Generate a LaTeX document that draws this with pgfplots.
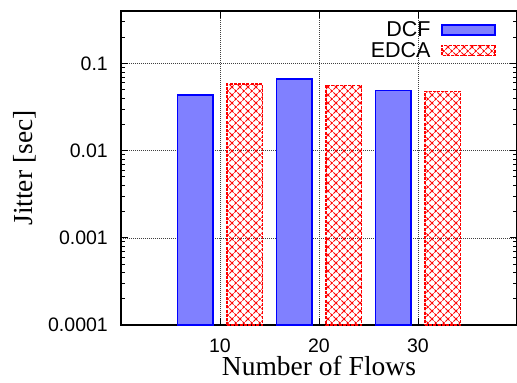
\documentclass[border=0pt]{standalone}
\usepackage{pgfplots}
\pgfplotsset{compat=1.18}
\usepackage{fontspec}
\setmainfont{Liberation Serif}
\newfontfamily\hel{Liberation Sans}
\usetikzlibrary{patterns}
\pgfdeclarepatternformonly{diagcross}{\pgfqpoint{-1pt}{-1pt}}{\pgfqpoint{9pt}{9pt}}{\pgfqpoint{8pt}{8pt}}{
 \pgfsetlinewidth{0.8pt}
 \pgfpathmoveto{\pgfqpoint{-0.5pt}{-0.5pt}}\pgfpathlineto{\pgfqpoint{8.5pt}{8.5pt}}
 \pgfpathmoveto{\pgfqpoint{-0.5pt}{8.5pt}}\pgfpathlineto{\pgfqpoint{8.5pt}{-0.5pt}}
 \pgfusepath{stroke}}
\definecolor{dcffill}{RGB}{128,128,255}
\pgfplotsset{boxlegend/.style={legend image code/.code={\draw[##1] (0pt,-5pt) rectangle (53pt,5pt);}}}
\begin{document}
\begin{tikzpicture}
\begin{axis}[
  scale only axis, width=396pt, height=314pt,
  xmin=0, xmax=40,
  ymode=log, ymin=1e-4, ymax=0.4, log origin=infty,
  xtick={10,20,30}, xticklabels={10,20,30},
  ytick={1e-4,1e-3,1e-2,1e-1}, yticklabels={0.0001,0.001,0.01,0.1},
  minor ytick={2e-4,3e-4,4e-4,5e-4,6e-4,7e-4,8e-4,9e-4,2e-3,3e-3,4e-3,5e-3,6e-3,7e-3,8e-3,9e-3,2e-2,3e-2,4e-2,5e-2,6e-2,7e-2,8e-2,9e-2,2e-1,3e-1},
  tick align=inside,
  major tick length=7pt, minor tick length=4pt,
  tick style={black, line width=0.8pt},
  axis line style={line width=1.2pt},
  grid=major,
  major grid style={black!75, line width=0.6pt, dash pattern=on 1pt off 1pt},
  xticklabel style={font=\hel\fontsize{19.5}{20}\selectfont, anchor=base, inner sep=0pt, yshift=-27pt},
  yticklabel style={font=\hel\fontsize{19.5}{20}\selectfont, anchor=east, inner sep=0pt, xshift=-13pt},
  xlabel={Number of Flows},
  ylabel={Jitter [sec]},
  every axis x label/.style={font=\fontsize{27.5}{28}\selectfont, at={(axis description cs:0.5,0)}, anchor=base, yshift=-50pt, inner sep=0pt},
  every axis y label/.style={font=\fontsize{27.5}{28}\selectfont, at={(axis description cs:-0.2247,0.5)}, anchor=base, rotate=90, inner sep=0pt},
  legend style={draw=none, fill=none, at={(axis description cs:1,1)}, anchor=north east, xshift=-21pt, yshift=-9pt, inner sep=0pt,
    font=\hel\fontsize{21.5}{22}\selectfont, legend plot pos=right, legend cell align=right,
    nodes={inner sep=1.5pt}, row sep=1pt, /tikz/column 1/.style={column sep=9pt}},
]
\addplot[ybar, bar width=3.6, bar shift=0pt, fill=dcffill, draw=blue, line width=1.8pt, boxlegend]
  coordinates {(7.5,0.0438) (17.5,0.066) (27.5,0.049)};
\addlegendentry{DCF}
\addplot[ybar, bar width=3.6, bar shift=0pt, pattern=diagcross, pattern color=red, draw=red, line width=1.4pt, dash pattern=on 3pt off 1.2pt, boxlegend]
  coordinates {(12.5,0.058) (22.5,0.056) (32.5,0.0478)};
\addlegendentry{EDCA}
\coordinate (o) at (rel axis cs:0,0);
\end{axis}
\pgfresetboundingbox
\path[use as bounding box] ([shift={(-121pt,-58pt)}]o) rectangle ([shift={(396pt,325pt)}]o);
\end{tikzpicture}
\end{document}
